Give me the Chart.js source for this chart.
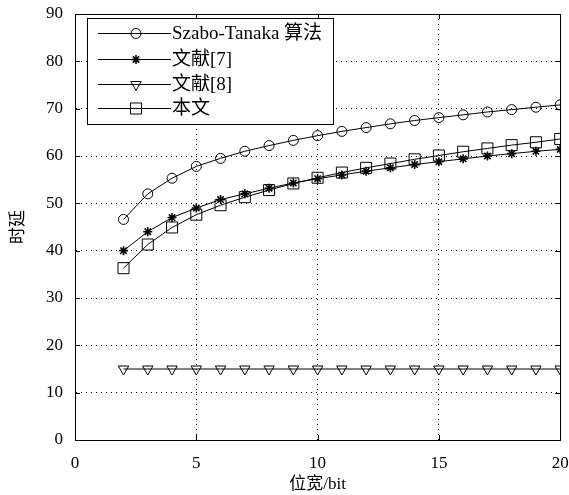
<!DOCTYPE html>
<html>
<head>
<meta charset="utf-8">
<script src="https://cdn.jsdelivr.net/npm/chart.js@4/dist/chart.umd.min.js"></script>
<style>
  html, body { margin: 0; padding: 0; background: #fff; }
  #wrap { width: 569px; height: 495px; }
</style>
</head>
<body>
<div id="wrap"><canvas id="myChart" width="569" height="495"></canvas></div>
<script>
// bit widths on the x axis
const bits = [2, 3, 4, 5, 6, 7, 8, 9, 10, 11, 12, 13, 14, 15, 16, 17, 18, 19, 20];

// delay values
const szabo = [46.6, 52.0, 55.3, 57.8, 59.5, 61.0, 62.2, 63.3, 64.3, 65.2, 66.0, 66.8, 67.5, 68.1, 68.7, 69.3, 69.8, 70.3, 70.8];
const ref7 = [40.0, 44.0, 47.0, 49.0, 50.8, 52.0, 53.2, 54.3, 55.2, 56.0, 56.8, 57.5, 58.2, 58.8, 59.4, 60.0, 60.5, 61.0, 61.4];
const ref8 = [15, 15, 15, 15, 15, 15, 15, 15, 15, 15, 15, 15, 15, 15, 15, 15, 15, 15, 15];
const ours = [36.3, 41.3, 44.9, 47.6, 49.6, 51.3, 52.8, 54.2, 55.4, 56.5, 57.5, 58.4, 59.3, 60.1, 60.9, 61.6, 62.3, 62.9, 63.6];

const seriesNames = ["Szabo-Tanaka 算法", "文献[7]", "文献[8]", "本文"];
const xTicks = [0, 5, 10, 15, 20];
const yTicks = [0, 10, 20, 30, 40, 50, 60, 70, 80, 90];

const serif = "'Liberation Serif', 'Times New Roman', 'Noto Sans CJK SC', serif";

function toPoints(values) {
  return values.map((v, i) => ({ x: bits[i], y: v }));
}

// marker styles, same order as the series
const markers = [
  { pointStyle: "circle", radius: 5, rotation: 0, width: 1 },
  { pointStyle: "star", radius: 4.5, rotation: 0, width: 1.6 },
  { pointStyle: "triangle", radius: 6, rotation: 180, width: 1 },
  { pointStyle: "rect", radius: 7.8, rotation: 0, width: 1 },
];

const allValues = [szabo, ref7, ref8, ours];

const datasets = allValues.map((vals, i) => ({
  label: seriesNames[i],
  data: toPoints(vals),
  borderColor: "#000",
  borderWidth: 1,
  pointStyle: markers[i].pointStyle,
  pointRadius: markers[i].radius,
  pointRotation: markers[i].rotation,
  pointBorderColor: "#000",
  pointBorderWidth: markers[i].width,
  pointBackgroundColor: "rgba(0,0,0,0)",
  fill: false,
  tension: 0,
}));

// frame + inward tick marks + legend box
const framePlugin = {
  id: "frame",
  afterDraw(chart) {
    const ctx = chart.ctx;
    const a = chart.chartArea;
    const xs = chart.scales.x;
    const ys = chart.scales.y;
    ctx.save();
    ctx.strokeStyle = "#000";
    ctx.lineWidth = 1;
    ctx.setLineDash([]);
    ctx.strokeRect(Math.round(a.left) + 0.5, Math.round(a.top) + 0.5,
      Math.round(a.right - a.left), Math.round(a.bottom - a.top));

    const len = 5;
    ctx.beginPath();
    xTicks.forEach((t) => {
      const px = Math.round(xs.getPixelForValue(t)) + 0.5;
      ctx.moveTo(px, a.bottom); ctx.lineTo(px, a.bottom - len);
      ctx.moveTo(px, a.top); ctx.lineTo(px, a.top + len);
    });
    yTicks.forEach((t) => {
      const py = Math.round(ys.getPixelForValue(t)) + 0.5;
      ctx.moveTo(a.left, py); ctx.lineTo(a.left + len, py);
      ctx.moveTo(a.right, py); ctx.lineTo(a.right - len, py);
    });
    ctx.stroke();

    // legend
    const bx = 87.5, by = 18.5, bw = 246, bh = 106;
    ctx.fillStyle = "#fff";
    ctx.fillRect(bx, by, bw, bh);
    ctx.strokeRect(bx, by, bw, bh);
    const rowY = [33, 59, 84, 108];
    ctx.font = "19px " + serif;
    ctx.textBaseline = "middle";
    ctx.textAlign = "left";
    rowY.forEach((y, i) => {
      const yy = y + 0.5;
      ctx.lineWidth = 1;
      ctx.beginPath();
      ctx.moveTo(98, yy);
      ctx.lineTo(171, yy);
      ctx.stroke();
      ctx.fillStyle = "rgba(0,0,0,0)";
      ctx.lineWidth = markers[i].width;
      Chart.helpers.drawPoint(ctx, {
        pointStyle: markers[i].pointStyle,
        radius: markers[i].radius,
        rotation: markers[i].rotation,
        borderWidth: markers[i].width,
      }, 136, yy);
      ctx.fillStyle = "#000";
      ctx.fillText(seriesNames[i], 172, y + 1);
    });
    ctx.restore();
  },
};

const config = {
  type: "line",
  data: { datasets },
  options: {
    responsive: false,
    animation: false,
    layout: { padding: { top: 14, right: 7, left: 0, bottom: 0 } },
    plugins: {
      legend: { display: false },
      tooltip: { enabled: false },
    },
    scales: {
      x: {
        type: "linear",
        min: 0,
        max: 20,
        afterFit: (s) => { s.height = 55; s.paddingLeft = 0; s.paddingRight = 0; },
        afterBuildTicks: (s) => { s.ticks = xTicks.map((v) => ({ value: v })); },
        ticks: { color: "#000", font: { family: serif, size: 17 }, padding: 13, maxRotation: 0, autoSkip: false },
        grid: { color: "#000", lineWidth: 1, drawTicks: false },
        border: { display: true, color: "#000", width: 1, dash: [1, 4] },
        title: { display: true, text: "位宽/bit", color: "#000", font: { family: serif, size: 17 }, padding: { top: 0, bottom: 0 } },
      },
      y: {
        type: "linear",
        min: 0,
        max: 90,
        afterFit: (s) => { s.width = 75; s.paddingTop = 0; s.paddingBottom = 0; },
        afterBuildTicks: (s) => { s.ticks = yTicks.map((v) => ({ value: v })); },
        ticks: { color: "#000", font: { family: serif, size: 17 }, padding: 12, autoSkip: false },
        grid: { color: "#000", lineWidth: 1, drawTicks: false },
        border: { display: true, color: "#000", width: 1, dash: [1, 4] },
        title: { display: true, text: "时延", color: "#000", font: { family: serif, size: 17 }, padding: { top: 8, bottom: 0 } },
      },
    },
  },
  plugins: [framePlugin],
};

const myChart = new Chart(document.getElementById("myChart"), config);
</script>
</body>
</html>
